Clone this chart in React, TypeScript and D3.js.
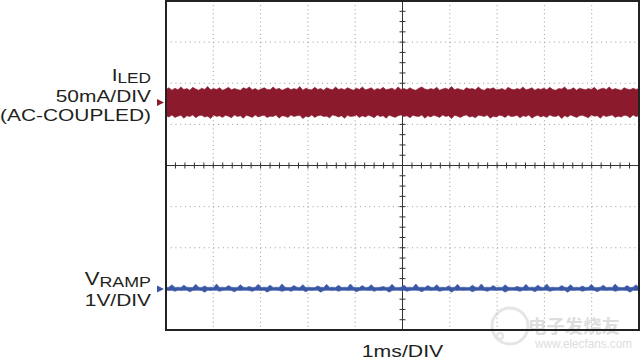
import React from "react";
import * as d3 from "d3";

const WIDTH = 640;
const HEIGHT = 360;

// scope screen: 10 x 8 divisions, 1ms/div
const X_DIVS = 10;
const Y_DIVS = 8;
const MS_PER_DIV = 1;

// channel 1: LED current, 50mA/div, AC coupled, ground marker at +1.53 div
const ILED_MA_PER_DIV = 50;
const ILED_OFFSET_DIV = 1.53;
const ILED_HI = [
  16, 18, 15, 17.5, 15.5, 19, 16, 17, 15, 18.5, 16.5, 15, 17.5, 16, 19.5, 15.5, 17, 16, 18, 15,
  16.5, 18.5, 15.5, 17, 16, 15, 18, 16.5, 19, 15.5, 17, 15, 16.5, 18, 16, 15.5, 19, 16, 17.5, 15,
  16.5, 18, 15.5, 17, 16, 19.5, 15, 17.5, 16, 15.5, 18.5, 16, 17, 15, 18, 16.5, 15.5, 19, 16, 17,
  15.5, 18, 16.5, 15, 17.5, 16, 19, 15.5, 16.5, 18, 15, 17, 16, 18.5, 15.5, 16.5, 17.5, 15, 19, 16,
  17, 15.5, 18, 16, 15, 17.5, 19, 16.5, 15.5, 17, 16, 18.5, 15, 16.5, 17.5, 16, 19.5, 15.5, 17, 16,
  15, 18, 16.5, 17, 15.5, 19, 16, 15, 17.5, 16.5, 18, 15.5, 16, 17, 15, 18.5, 16.5, 15.5, 17, 16,
  19, 15.5, 16.5, 18, 15, 17, 16, 17.5, 15.5, 18.5, 16, 15, 17, 16.5, 19, 15.5, 16, 18, 15, 17.5,
  16.5, 15.5, 17, 16, 18.5, 15, 16.5, 17.5, 16, 19, 15.5, 17, 16, 15, 18, 16.5, 15.5, 17.5, 16, 17,
];
const ILED_LO = [
  -16, -17.5, -15, -18, -16.5, -15.5, -19, -16, -17, -15, -18.5, -16, -15.5, -17.5, -16.5, -19.5, -15, -17, -16, -18,
  -15.5, -16.5, -18.5, -15, -17, -16, -19, -15.5, -16.5, -18, -15, -17.5, -16, -15.5, -18, -16.5, -17, -15, -19, -16,
  -16.5, -18, -15, -17, -16, -15.5, -19.5, -16.5, -17.5, -15, -18, -16, -15.5, -17, -16.5, -18.5, -15, -16, -17.5, -16,
  -19, -15.5, -17, -16.5, -15, -18, -16, -17.5, -15.5, -16.5, -18.5, -15, -17, -16, -19, -15.5, -16.5, -18, -16, -15,
  -17, -16, -18.5, -15.5, -16.5, -17, -15, -19, -16, -17.5, -15.5, -16.5, -18, -15, -17, -16, -19.5, -15.5, -16.5, -18,
  -16, -15, -17.5, -16.5, -18.5, -15.5, -16, -17, -15, -19, -16.5, -17.5, -15.5, -16, -18, -15, -17, -16.5, -15.5, -18.5,
  -16, -17, -15, -19, -16.5, -15.5, -17.5, -16, -18, -15, -16.5, -17, -15.5, -19.5, -16, -17.5, -15, -16.5, -18, -16,
  -15.5, -17, -18.5, -15, -16.5, -16, -19, -15.5, -17, -16, -15, -18, -16.5, -17.5, -15.5, -16, -18.5, -15, -17, -16,
];

// channel 2: ramp voltage, 1V/div, ground marker at -3 div
const VRAMP_V_PER_DIV = 1;
const VRAMP_OFFSET_DIV = -3.0;
const VRAMP_HI = [
  0.035, 0.04, 0.1, 0.035, 0.04, 0.035, 0.09, 0.04, 0.035, 0.035, 0.11, 0.04, 0.035, 0.07, 0.035, 0.04, 0.035, 0.12, 0.035, 0.04,
  0.035, 0.08, 0.04, 0.035, 0.035, 0.1, 0.04, 0.035, 0.06, 0.035, 0.04, 0.11, 0.035, 0.04, 0.035, 0.09, 0.035, 0.04, 0.035, 0.12,
  0.04, 0.035, 0.035, 0.08, 0.04, 0.035, 0.1, 0.035, 0.04, 0.035, 0.035, 0.07, 0.04, 0.035, 0.11, 0.035, 0.04, 0.035, 0.09, 0.035,
  0.04, 0.035, 0.12, 0.04, 0.035, 0.035, 0.08, 0.035, 0.04, 0.1, 0.035, 0.035, 0.04, 0.06, 0.035, 0.04, 0.11, 0.035, 0.035, 0.04,
  0.09, 0.035, 0.04, 0.035, 0.12, 0.035, 0.04, 0.035, 0.08, 0.04, 0.035, 0.1, 0.035, 0.04, 0.035, 0.07, 0.035, 0.04, 0.11, 0.035,
  0.04, 0.035, 0.035, 0.09, 0.04, 0.035, 0.12, 0.035, 0.04, 0.035, 0.08, 0.035, 0.04, 0.035, 0.1, 0.04, 0.035, 0.035, 0.06, 0.04,
  0.035, 0.11, 0.035, 0.04, 0.035, 0.09, 0.04, 0.035, 0.12, 0.035, 0.04, 0.035, 0.035, 0.08, 0.04, 0.035, 0.1, 0.035, 0.04, 0.035,
  0.07, 0.035, 0.04, 0.11, 0.035, 0.035, 0.04, 0.09, 0.035, 0.04, 0.035, 0.12, 0.04, 0.035, 0.035, 0.08, 0.035, 0.04, 0.1, 0.035,
];
const VRAMP_LO = [
  -0.035, -0.04, -0.035, -0.06, -0.035, -0.04, -0.035, -0.035, -0.07, -0.04, -0.035, -0.035, -0.04, -0.08, -0.035, -0.04, -0.035, -0.035, -0.06, -0.04,
  -0.035, -0.035, -0.04, -0.07, -0.035, -0.04, -0.035, -0.035, -0.04, -0.06, -0.035, -0.035, -0.04, -0.035, -0.08, -0.04, -0.035, -0.035, -0.04, -0.06,
  -0.04, -0.035, -0.06, -0.035, -0.035, -0.04, -0.035, -0.07, -0.035, -0.04, -0.035, -0.035, -0.08, -0.04, -0.035, -0.035, -0.04, -0.035, -0.06, -0.035,
  -0.035, -0.04, -0.035, -0.035, -0.07, -0.04, -0.035, -0.035, -0.04, -0.035, -0.06, -0.035, -0.04, -0.035, -0.035, -0.08, -0.04, -0.035, -0.035, -0.04,
  -0.035, -0.06, -0.04, -0.035, -0.035, -0.04, -0.07, -0.035, -0.035, -0.04, -0.035, -0.035, -0.06, -0.04, -0.035, -0.035, -0.08, -0.035, -0.04, -0.035,
  -0.04, -0.035, -0.035, -0.07, -0.04, -0.035, -0.035, -0.04, -0.06, -0.035, -0.035, -0.04, -0.035, -0.035, -0.08, -0.04, -0.035, -0.035, -0.04, -0.06,
  -0.035, -0.04, -0.035, -0.035, -0.07, -0.035, -0.04, -0.035, -0.035, -0.06, -0.04, -0.035, -0.035, -0.04, -0.035, -0.08, -0.035, -0.04, -0.035, -0.035,
  -0.06, -0.04, -0.035, -0.035, -0.04, -0.07, -0.035, -0.035, -0.04, -0.035, -0.035, -0.06, -0.04, -0.035, -0.035, -0.04, -0.08, -0.035, -0.04, -0.035,
];

const ILED_LABEL = ["50mA/DIV", "(AC-COUPLED)"];
const VRAMP_LABEL = ["1V/DIV"];
const TIME_LABEL = "1ms/DIV";

const RED = "#8c1a2d";
const BLUE = "#3a57a6";
const FONT = "'Liberation Sans', Arial, Helvetica, sans-serif";

const left = 166, right = 639, top = 1, bottom = 330;

const x = d3.scaleLinear().domain([0, X_DIVS * MS_PER_DIV]).range([left, right]);
const y = d3.scaleLinear().domain([-Y_DIVS / 2, Y_DIVS / 2]).range([bottom, top]);

const band = (hi: number[], lo: number[], perDiv: number, offset: number) => {
  const n = Math.min(hi.length, lo.length);
  const t = d3.scaleLinear().domain([0, n - 1]).range([0, X_DIVS * MS_PER_DIV]);
  return d3
    .area<number>()
    .x(i => x(t(i)))
    .y0(i => y(offset + lo[i] / perDiv))
    .y1(i => y(offset + hi[i] / perDiv))(d3.range(n)) as string;
};

const Marker = ({ div, color }: { div: number; color: string }) => {
  const cy = y(div);
  return <path d={`M${left - 9},${cy - 3.5}L${left - 2},${cy}L${left - 9},${cy + 3.5}Z`} fill={color} />;
};

export default function App() {
  const xc = x((X_DIVS * MS_PER_DIV) / 2);
  const yc = y(0);
  const xStep = (right - left) / X_DIVS;
  const yStep = (bottom - top) / Y_DIVS;

  const vGrid = d3.range(1, X_DIVS).filter(i => i !== X_DIVS / 2);
  const hGrid = d3.range(-Y_DIVS / 2 + 1, Y_DIVS / 2).filter(v => v !== 0);
  const hTicks = d3.range(0, X_DIVS * 5 + 1).map(i => left + (i * xStep) / 5);
  const vTicks = d3.range(0, Y_DIVS * 4 + 1).map(i => top + (i * yStep) / 4);

  return (
    <svg width={WIDTH} height={HEIGHT} style={{ position: "absolute", left: 0, top: 0, background: "#fff" }}>
      {/* watermark */}
      <g opacity={0.6}>
        <circle cx={510} cy={326} r={18} fill="none" stroke="#d4d4d4" strokeWidth={3} />
        <circle cx={500} cy={336} r={3} fill="none" stroke="#d4d4d4" strokeWidth={2} />
        <text x={528} y={333} fontSize={18} fill="#c8c8c8" fontFamily="'Noto Sans CJK SC', sans-serif" fontWeight="bold"
          textLength={92} lengthAdjust="spacingAndGlyphs">电子发烧友</text>
        <text x={535} y={348} fontSize={12} fill="#c8c8c8" fontFamily={FONT}
          textLength={97} lengthAdjust="spacingAndGlyphs">www.elecfans.com</text>
      </g>

      {/* dotted graticule */}
      <g stroke="#9a9a9a" strokeWidth={1}>
        {vGrid.map(i => (
          <line key={"v" + i} x1={left + i * xStep} x2={left + i * xStep} y1={top} y2={bottom}
            strokeDasharray={`1 ${yStep / 10 - 1}`} />
        ))}
        {hGrid.map(v => (
          <line key={"h" + v} x1={left} x2={right} y1={y(v)} y2={y(v)} strokeDasharray={`1 ${xStep / 10 - 1}`} />
        ))}
      </g>

      {/* centre axes with minor ticks */}
      <g stroke="#333" strokeWidth={1}>
        <line x1={left} x2={right} y1={yc} y2={yc} />
        <line x1={xc} x2={xc} y1={top} y2={bottom} />
        {hTicks.map((tx, i) => <line key={"ht" + i} x1={tx} x2={tx} y1={yc - 3} y2={yc + 3} />)}
        {vTicks.map((ty, i) => <line key={"vt" + i} x1={xc - 3} x2={xc + 3} y1={ty} y2={ty} />)}
      </g>

      {/* traces */}
      <path d={band(ILED_HI, ILED_LO, ILED_MA_PER_DIV, ILED_OFFSET_DIV)} fill={RED} stroke={RED} strokeWidth={0.6} />
      <path d={band(VRAMP_HI, VRAMP_LO, VRAMP_V_PER_DIV, VRAMP_OFFSET_DIV)} fill={BLUE} stroke={BLUE} strokeWidth={0.6} />

      {/* frame */}
      <rect x={left} y={top} width={right - left} height={bottom - top} fill="none" stroke="#222" strokeWidth={2} />

      <Marker div={ILED_OFFSET_DIV} color={RED} />
      <Marker div={VRAMP_OFFSET_DIV} color={BLUE} />

      {/* channel labels */}
      <g transform="translate(151,0) scale(1.23,1)" fontFamily={FONT} fill="#231f20" textAnchor="end">
        <text x={0} y={81} fontSize={17}>
          I<tspan fontSize={14} dy={2.5}>LED</tspan>
        </text>
        {ILED_LABEL.map((s, i) => (
          <text key={s} x={0} y={102 + i * 19} fontSize={17}>{s}</text>
        ))}
        <text x={0} y={285.5} fontSize={18}>
          V<tspan fontSize={14.5} dy={1.5}>RAMP</tspan>
        </text>
        {VRAMP_LABEL.map((s, i) => (
          <text key={s} x={0} y={306 + i * 19} fontSize={17}>{s}</text>
        ))}
      </g>

      <text x={xc} y={357} fontSize={17} fontFamily={FONT} fill="#231f20" textAnchor="middle"
        transform={`translate(${xc},0) scale(1.25,1) translate(${-xc},0)`}>
        {TIME_LABEL}
      </text>
    </svg>
  );
}
